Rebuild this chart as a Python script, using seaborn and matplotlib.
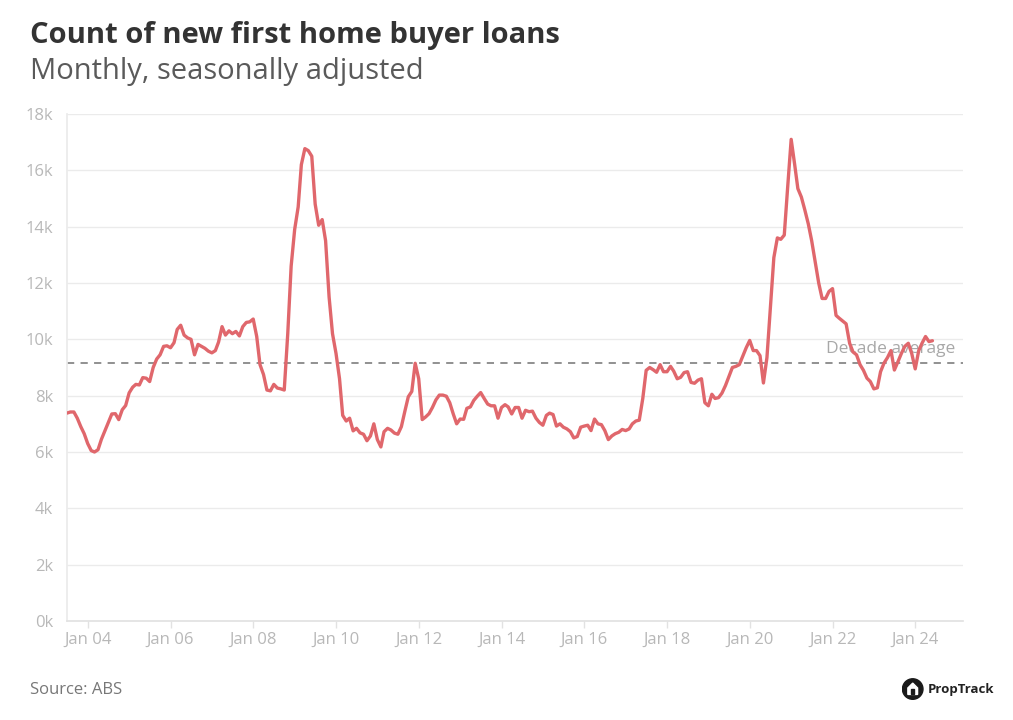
import pandas as pd
import numpy as np
import matplotlib
matplotlib.use('Agg')
import matplotlib.pyplot as plt
import matplotlib.dates as mdates
from matplotlib.patches import Circle, Polygon
import seaborn as sns

# Monthly counts, Jul 2003 - Jun 2024
y2003 = [7380, 7420, 7420, 7200, 6900, 6650]
y2004 = [6300, 6050, 6000, 6080, 6450, 6750, 7050, 7350, 7360, 7150, 7500, 7650]
y2005 = [8100, 8300, 8400, 8380, 8640, 8620, 8500, 9000, 9300, 9450, 9750, 9770]
y2006 = [9700, 9880, 10350, 10500, 10150, 10050, 10000, 9450, 9820, 9750, 9680, 9580]
y2007 = [9520, 9600, 9900, 10450, 10150, 10300, 10200, 10280, 10120, 10450, 10600, 10620]
y2008 = [10720, 10100, 9100, 8750, 8200, 8170, 8400, 8270, 8240, 8200, 10200, 12600]
y2009 = [13900, 14700, 16200, 16770, 16700, 16500, 14800, 14050, 14250, 13500, 11500, 10200]
y2010 = [9500, 8600, 7300, 7100, 7200, 6750, 6840, 6680, 6630, 6400, 6570, 7000]
y2011 = [6440, 6180, 6720, 6840, 6780, 6670, 6630, 6900, 7450, 7960, 8150, 9150]
y2012 = [8600, 7150, 7240, 7360, 7580, 7850, 8020, 8020, 7980, 7750, 7350, 7000]
y2013 = [7170, 7160, 7550, 7600, 7830, 7980, 8110, 7900, 7700, 7640, 7640, 7200]
y2014 = [7580, 7680, 7600, 7350, 7580, 7580, 7200, 7480, 7430, 7450, 7200, 7050]
y2015 = [6950, 7300, 7380, 7330, 6920, 7000, 6880, 6820, 6720, 6500, 6550, 6880]
y2016 = [6920, 6950, 6760, 7170, 7000, 6970, 6760, 6440, 6570, 6650, 6700, 6800]
y2017 = [6760, 6820, 7000, 7100, 7130, 7900, 8900, 9000, 8920, 8830, 9100, 8850]
y2018 = [8850, 9040, 8870, 8600, 8650, 8820, 8850, 8470, 8440, 8550, 8600, 7750]
y2019 = [7640, 8050, 7900, 7930, 8090, 8360, 8680, 9000, 9040, 9100, 9400, 9700]
y2020 = [9960, 9600, 9600, 9420, 8450, 9350, 11100, 12900, 13600, 13550, 13700, 15400]
y2021 = [17100, 16200, 15350, 15050, 14600, 14100, 13500, 12750, 12000, 11450, 11450, 11700]
y2022 = [11800, 10850, 10750, 10650, 10550, 9860, 9550, 9450, 9100, 8900, 8620, 8500]
y2023 = [8240, 8280, 8850, 9160, 9350, 9600, 8910, 9200, 9500, 9750, 9860, 9500]
y2024 = [8950, 9600, 9860, 10100, 9920, 9950]

decade_average = 9160
y_ticks = [0, 2000, 4000, 6000, 8000, 10000, 12000, 14000, 16000, 18000]
y_tick_labels = ['0k', '2k', '4k', '6k', '8k', '10k', '12k', '14k', '16k', '18k']

loans = (y2003 + y2004 + y2005 + y2006 + y2007 + y2008 + y2009 + y2010 + y2011
         + y2012 + y2013 + y2014 + y2015 + y2016 + y2017 + y2018 + y2019
         + y2020 + y2021 + y2022 + y2023 + y2024)
df = pd.DataFrame({
    'month': pd.date_range('2003-07-01', periods=len(loans), freq='MS'),
    'loans': loans,
})

sns.set_theme(style='white')
plt.rcParams['font.family'] = ['Open Sans', 'DejaVu Sans']

fig = plt.figure(figsize=(10.13, 7.2), dpi=100)
ax = fig.add_axes([0.066, 0.1375, 0.885, 0.7042])

grid_col = '#ebebeb'
tick_col = '#b8b8b8'

ax.axhline(decade_average, color='#888888', lw=1.3, ls=(0, (4, 3.5)), zorder=2)
ax.text(pd.Timestamp('2024-12-20'), 9650, 'Decade average',
        ha='right', va='center', color='#a8a8a8', fontsize=12.5, zorder=2)

sns.lineplot(data=df, x='month', y='loans', ax=ax, color='#e0676c', lw=2.4, zorder=3)

ax.set_ylim(0, 18000)
ax.set_xlim(pd.Timestamp('2003-07-01'), pd.Timestamp('2025-03-01'))
ax.set_yticks(y_ticks)
ax.set_yticklabels(y_tick_labels)
ax.xaxis.set_major_locator(mdates.YearLocator(2, month=1))
ax.xaxis.set_major_formatter(mdates.DateFormatter('Jan %y'))
ax.set_xlabel('')
ax.set_ylabel('')

ax.grid(axis='y', color=grid_col, lw=1)
ax.set_axisbelow(True)
for side in ['top', 'right']:
    ax.spines[side].set_visible(False)
ax.spines['left'].set_color(grid_col)
ax.spines['bottom'].set_color('#e2e2e2')
ax.tick_params(axis='x', colors=tick_col, labelsize=12, length=5, width=1,
               color='#e2e2e2', pad=3, bottom=True)
ax.tick_params(axis='y', colors=tick_col, labelsize=12, length=0, pad=10)

# Titles and footer
fig.text(0.0296, 0.951, 'Count of new first home buyer loans', fontsize=21,
         fontweight='bold', color='#333333', va='center', ha='left')
fig.text(0.0296, 0.901, 'Monthly, seasonally adjusted', fontsize=21,
         color='#5a5a5a', va='center', ha='left')
fig.text(0.0296, 0.042, 'Source: ABS', fontsize=12, color='#777777',
         va='center', ha='left')

# PropTrack logo
logo = fig.add_axes([0.888, 0.028, 0.026, 0.03])
logo.set_xlim(-1, 1)
logo.set_ylim(-1, 1)
logo.set_aspect('equal')
logo.axis('off')
logo.add_patch(Circle((0, 0), 0.95, color='#1a1a1a'))
logo.add_patch(Polygon([[-0.45, -0.5], [-0.45, 0.1], [0, 0.55], [0.45, 0.1], [0.45, -0.5]],
                       closed=True, color='white'))
logo.add_patch(Polygon([[-0.15, -0.5], [-0.15, 0.0], [0.15, 0.0], [0.15, -0.5]],
                       closed=True, color='#1a1a1a'))
fig.text(0.9155, 0.043, 'PropTrack', fontsize=9.5, fontweight='bold',
         color='#222222', va='center', ha='left')

fig.savefig('out.png', dpi=100, facecolor='white')
